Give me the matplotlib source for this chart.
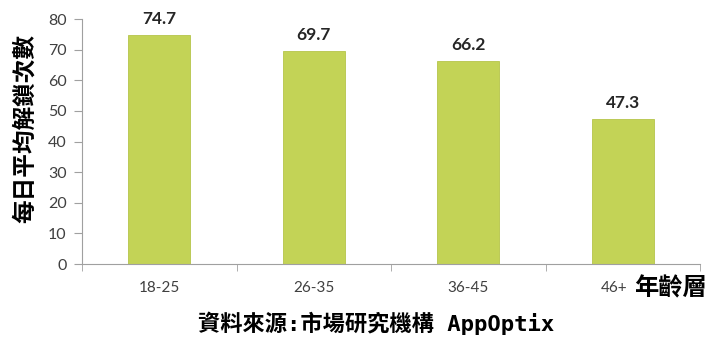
import matplotlib.pyplot as plt
import matplotlib.transforms as mtransforms
import numpy as np

# Data
age_groups = ["18-25", "26-35", "36-45", "46+"]
unlocks = [74.7, 69.7, 66.2, 47.3]
y_ticks = [0, 10, 20, 30, 40, 50, 60, 70, 80]

plt.rcParams['font.family'] = ['Noto Sans CJK TC', 'DejaVu Sans']

fig = plt.figure(figsize=(7.22, 3.56), dpi=100)
ax = fig.add_axes([0.1136, 0.2584, 0.856, 0.6882])

x = np.arange(len(age_groups))
ax.bar(x, unlocks, width=0.4, color='#c3d356', edgecolor='#b5c54a', linewidth=0.6)

# value labels above each bar
for xi, v in zip(x, unlocks):
    ax.text(xi, v + 5.2, f"{v}", ha='center', va='center', fontsize=12.5,
            fontweight='bold', color='#262626', family=['Lato', 'DejaVu Sans'])

ax.set_xlim(-0.5, len(age_groups) - 0.5)
ax.set_ylim(0, 80)
ax.set_xticks(x)
ax.set_xticklabels(age_groups, family=['Lato', 'DejaVu Sans'])
ax.set_yticks(y_ticks, [str(t) for t in y_ticks], family=['Lato', 'DejaVu Sans'])
ax.set_xticks(np.arange(-0.5, len(age_groups)), minor=True)
ax.tick_params(axis='x', which='major', length=0, pad=12, labelsize=11, labelcolor='#404040')
ax.tick_params(axis='x', which='minor', length=5, color='#a0a0a0', direction='out')
ax.tick_params(axis='y', length=6, color='#a0a0a0', labelsize=11.5, labelcolor='#404040', pad=5)

# last category label sits a bit left to make room for the axis title
lbl = ax.get_xticklabels()[-1]
lbl.set_transform(lbl.get_transform() + mtransforms.ScaledTranslation(-0.09, 0, fig.dpi_scale_trans))

for s in ['top', 'right']:
    ax.spines[s].set_visible(False)
ax.spines['left'].set_color('#a0a0a0')
ax.spines['bottom'].set_color('#a0a0a0')

ax.set_ylabel("每日平均解鎖次數", fontsize=17, fontweight='bold', color='black')
ax.yaxis.set_label_coords(-0.073, 0.555)

fig.text(0.878, 0.19, "年齡層", fontsize=17.5, fontweight='bold', ha='left', va='center')
fig.text(0.5215, 0.0927, "資料來源:市場研究機構 AppOptix", fontsize=16, fontweight='bold',
         ha='center', va='center', family=['DejaVu Sans Mono', 'Noto Sans CJK TC'])

fig.savefig("out.png", dpi=100)
